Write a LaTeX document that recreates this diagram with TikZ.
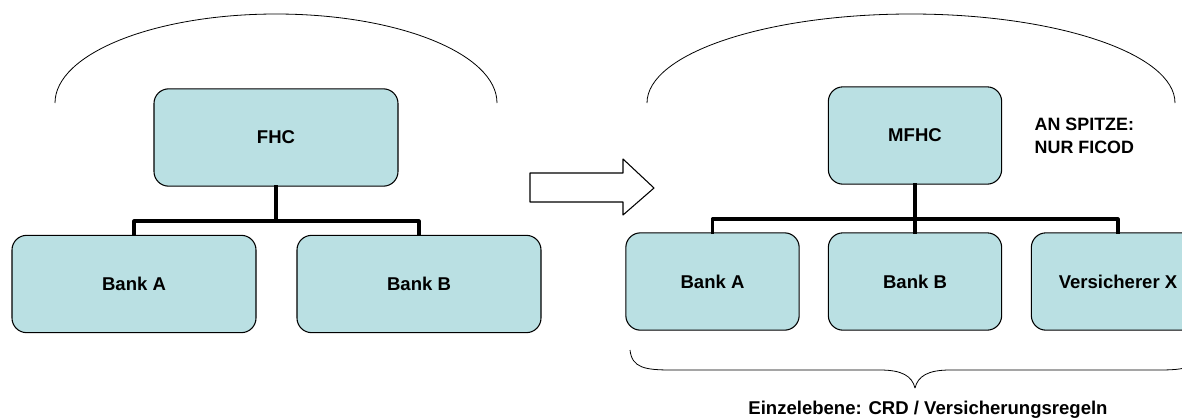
\documentclass[tikz,border=0pt]{standalone}
\usepackage{fontspec}
\setmainfont{Liberation Sans}
\definecolor{boxfill}{RGB}{186,224,227}
\tikzset{
  firm/.style={draw=black,line width=0.8pt,fill=boxfill,rounded corners=11pt,
    inner sep=0pt,font=\bfseries\fontsize{13.9}{16}\selectfont},
  bigfirm/.style={firm,minimum width=183pt,minimum height=73pt},
  smallfirm/.style={firm,minimum width=130pt,minimum height=73pt},
  tree/.style={line width=2.3pt,line cap=rect},
  scopearc/.style={line width=0.6pt}
}
\begin{document}
\begin{tikzpicture}[x=0.75pt,y=-0.75pt,line join=round]
\useasboundingbox (0,0) rectangle (1182,419);
\clip (0,0) rectangle (1182,419);

% links: vorher
\node[bigfirm] (fhc) at (276,137.5) {FHC};
\node[bigfirm] (bankA) at (134,284) {Bank A};
\node[bigfirm] (bankB) at (419,284) {Bank B};
\coordinate (jl) at (276,221);

\draw[tree] (fhc.south) -- (jl);
\draw[tree] (bankA.north) |- (jl) -| (bankB.north);
\draw[scopearc] (55,103) arc[start angle=180,end angle=360,x radius=221,y radius=89];

% Pfeil
\draw[line width=0.8pt,fill=white] (530,173) -- (623,173) -- (623,159) -- (654,188)
  -- (623,215) -- (623,202) -- (530,202) -- cycle;

% rechts: nachher
\node[smallfirm] (mfhc) at (915,135.5) {MFHC};
\node[smallfirm] (rbankA) at (712.5,281.5) {Bank A};
\node[smallfirm] (rbankB) at (915,281.5) {Bank B};
\node[smallfirm] (versX) at (1118,281.5) {Versicherer X};
\coordinate (jr) at (915,219);

\draw[tree] (mfhc.south) -- (jr) -- (rbankB.north);
\draw[tree] (rbankA.north) |- (jr) -| (versX.north);
\draw[scopearc] (647,103) arc[start angle=180,end angle=360,x radius=264,y radius=89];

\node[anchor=west,align=left,font=\bfseries\fontsize{13.4}{17.6}\selectfont] (spitze) at (1030,136)
  {AN SPITZE:\\NUR FICOD};

% Klammer unten
\draw[scopearc] (630,350) .. controls (632,368) and (645,370) .. (672,370) -- (880,370)
  .. controls (902,370) and (912,376) .. (915,388)
  .. controls (918,376) and (928,370) .. (950,370) -- (1158,370)
  .. controls (1185,370) and (1198,368) .. (1200,350);
\node[font=\bfseries\fontsize{13.9}{16}\selectfont] (ebene) at (928,410)
  {Einzelebene: CRD / Versicherungsregeln};
\end{tikzpicture}
\end{document}
